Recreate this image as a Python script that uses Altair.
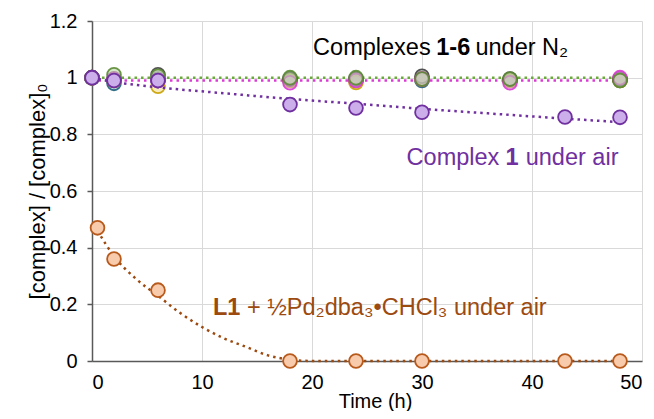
import altair as alt
import pandas as pd

# ---- data ----
times_n2 = [0, 2, 6, 18, 24, 30, 38, 48]
n2_series = ["c1", "c2", "c3", "c4", "c5", "c6"]
n2_c1 = [1.0, 0.99, 0.995, 0.995, 0.995, 0.995, 0.99, 0.995]
n2_c2 = [1.0, 0.98, 0.99, 0.99, 0.99, 0.99, 0.99, 0.99]
n2_c3 = [1.0, 0.99, 0.97, 0.99, 0.983, 0.995, 0.99, 0.99]
n2_c4 = [1.0, 0.995, 1.01, 0.995, 0.995, 1.005, 0.995, 0.995]
n2_c5 = [1.0, 0.995, 0.99, 0.982, 0.99, 0.995, 0.982, 1.0]
n2_c6 = [1.0, 1.01, 1.005, 1.0, 1.0, 0.995, 0.995, 0.99]
n2_stroke = ["#7030A0", "#1F5F7A", "#C9A000", "#404040", "#D93BD3", "#5A8A32"]
n2_fill = ["#CDB3E8", "#9FC4D6", "#F3DC8A", "#B8B8B8", "#F2B3EE", "#B5D3A3"]

times_air1 = [0, 2, 6, 18, 24, 30, 43, 48]
vals_air1 = [1.0, 0.99, 0.99, 0.905, 0.893, 0.878, 0.861, 0.86]

times_l1 = [0.5, 2, 6, 18, 24, 30, 43, 48]
vals_l1 = [0.47, 0.36, 0.25, 0.0, 0.0, 0.0, 0.0, 0.0]

trend_air1_t = [0, 2, 6, 12, 18, 24, 30, 36, 42, 48]
trend_air1_v = [1.0, 0.985, 0.966, 0.945, 0.925, 0.908, 0.89, 0.874, 0.858, 0.843]

trend_l1_t = [0.5, 2, 4, 6, 8, 10, 12, 14, 16, 18, 20, 48]
trend_l1_v = [0.46, 0.37, 0.29, 0.23, 0.17, 0.12, 0.08, 0.05, 0.02, 0.005, 0.0, 0.0]

trend_n2_t = [0, 48]
trend_c6_v = [1.0, 1.0]
trend_c5_v = [0.99, 0.99]

ann_text = ["Complexes", "1-6", "under N₂", "Complex", "1", "under air", "L1",
            "+ ½Pd₂dba₃•CHCl₃ under air"]
ann_t = [20.1, 31.3, 34.86, 28.6, 37.6, 39.43, 11.0, 14.09]
ann_v = [1.08, 1.08, 1.08, 0.692, 0.692, 0.692, 0.162, 0.162]
ann_bold = [False, True, False, False, True, False, True, False]
ann_color = ["#000000", "#000000", "#000000", "#7030A0", "#7030A0", "#7030A0",
             "#9C4A10", "#9C4A10"]

# ---- tables ----
rows = []
for s, vals in zip(n2_series, [n2_c1, n2_c2, n2_c3, n2_c4, n2_c5, n2_c6]):
    for t, v in zip(times_n2, vals):
        rows.append({"t": t, "v": v, "s": s})
df_n2 = pd.DataFrame(rows)
df_air1 = pd.DataFrame({"t": times_air1, "v": vals_air1})
df_l1 = pd.DataFrame({"t": times_l1, "v": vals_l1})
df_tr_air1 = pd.DataFrame({"t": trend_air1_t, "v": trend_air1_v})
df_tr_l1 = pd.DataFrame({"t": trend_l1_t, "v": trend_l1_v})
df_tr_c5 = pd.DataFrame({"t": trend_n2_t, "v": trend_c5_v})
df_tr_c6 = pd.DataFrame({"t": trend_n2_t, "v": trend_c6_v})
df_ann = pd.DataFrame({"text": ann_text, "t": ann_t, "v": ann_v,
                       "bold": ann_bold, "color": ann_color})

xs = alt.Scale(domain=[0, 50], nice=False)
ys = alt.Scale(domain=[0, 1.2], nice=False)

X = alt.X("t:Q", scale=xs, axis=alt.Axis(
    title="Time (h)", values=[0, 10, 20, 30, 40, 50], tickSize=0,
    labelPadding=11, titleX=283, titleY=30, titleBaseline="top", titleFontSize=20))
Y = alt.Y("v:Q", scale=ys, axis=alt.Axis(
    title="[complex] / [complex]₀", values=[0, 0.2, 0.4, 0.6, 0.8, 1.0, 1.2],
    format="~g", tickSize=5, labelPadding=10, titlePadding=0))

dash = [2.5, 4]

base_x = alt.X("t:Q", scale=xs)
base_y = alt.Y("v:Q", scale=ys)

tr_c5 = alt.Chart(df_tr_c5).mark_line(color="#D93BD3", strokeWidth=2.5,
                                      strokeDash=dash).encode(x=X, y=Y)
tr_c6 = alt.Chart(df_tr_c6).mark_line(color="#6AAA3A", strokeWidth=2.5,
                                      strokeDash=dash, strokeDashOffset=3).encode(x=base_x, y=base_y)
tr_air1 = alt.Chart(df_tr_air1).mark_line(color="#7030A0", strokeWidth=2.5,
                                          strokeDash=dash, interpolate="monotone").encode(x=base_x, y=base_y)
tr_l1 = alt.Chart(df_tr_l1).mark_line(color="#9C4A10", strokeWidth=2.5,
                                      strokeDash=dash, interpolate="monotone").encode(x=base_x, y=base_y)

pts_n2 = alt.Chart(df_n2).mark_point(filled=True, size=190, strokeWidth=1.8,
                                     fillOpacity=0.55, strokeOpacity=0.9).encode(
    x=base_x, y=base_y,
    fill=alt.Fill("s:N", scale=alt.Scale(domain=n2_series, range=n2_fill), legend=None),
    stroke=alt.Stroke("s:N", scale=alt.Scale(domain=n2_series, range=n2_stroke), legend=None),
)
pts_air1 = alt.Chart(df_air1).mark_point(filled=True, size=190, strokeWidth=1.8,
                                         fill="#CBAEEA", stroke="#7030A0",
                                         fillOpacity=1).encode(x=base_x, y=base_y)
pts_l1 = alt.Chart(df_l1).mark_point(filled=True, size=190, strokeWidth=1.8,
                                     fill="#F8CBAD", stroke="#B85A1C",
                                     fillOpacity=1).encode(x=base_x, y=base_y)

ann_norm = alt.Chart(df_ann).transform_filter("!datum.bold").mark_text(
    align="left", baseline="alphabetic", fontSize=23.5, font="Liberation Sans").encode(
    x=base_x, y=base_y, text="text:N", color=alt.Color("color:N", scale=None))
ann_bold_l = alt.Chart(df_ann).transform_filter("datum.bold").mark_text(
    align="left", baseline="alphabetic", fontSize=23.5, fontWeight="bold",
    font="Liberation Sans").encode(
    x=base_x, y=base_y, text="text:N", color=alt.Color("color:N", scale=None))

chart = alt.layer(
    tr_c5, tr_c6, pts_n2, tr_air1, pts_air1, tr_l1, pts_l1, ann_norm, ann_bold_l
).properties(
    width=550, height=340,
    autosize=alt.AutoSizeParams(type="none"),
    padding={"left": 84, "top": 13, "right": 4, "bottom": 50},
).configure_view(stroke=None).configure_axis(
    labelFont="Liberation Sans", titleFont="Liberation Sans",
    labelFontSize=20, titleFontSize=22, labelColor="#000000", titleColor="#000000",
    titleFontWeight="normal", gridColor="#D9D9D9", gridWidth=1,
    domainColor="#595959", domainWidth=1.5, tickColor="#595959", tickWidth=1.5,
).configure_axisX(domainColor="#595959")

chart.save("out.html", embed_options={"renderer": "svg", "actions": False})
